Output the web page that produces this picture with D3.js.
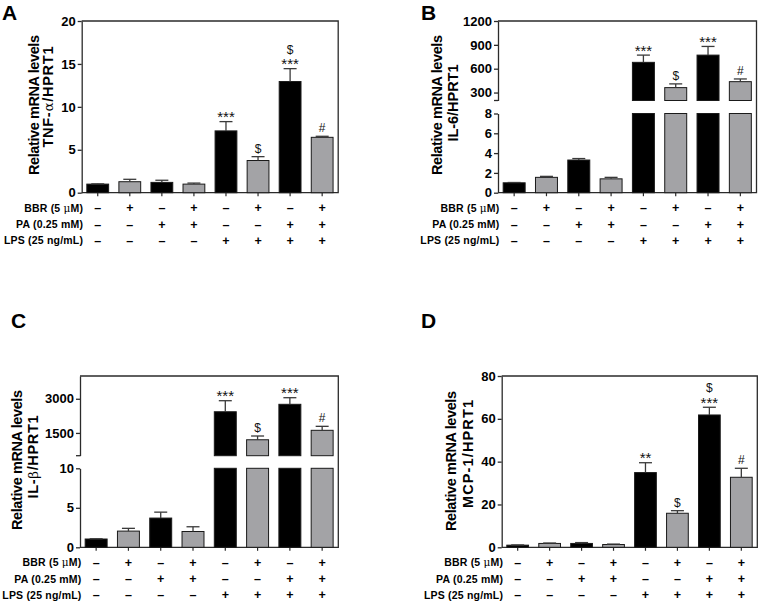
<!DOCTYPE html>
<html>
<head>
<meta charset="utf-8">
<script src="https://cdn.jsdelivr.net/npm/d3@7"></script>
<style>
  body { margin: 0; background: #fff; }
  svg { display: block; font-family: "Liberation Sans", Arial, sans-serif; }
</style>
</head>
<body>
<svg id="fig" width="760" height="605"></svg>
<script>
// treatment table under each panel
const rowNames = [["BBR (5 ", "μ", "M)"], ["PA (0.25 mM)"], ["LPS (25 ng/mL)"]];
const bbrSigns = ["–", "+", "–", "+", "–", "+", "–", "+"];
const paSigns  = ["–", "–", "+", "+", "–", "–", "+", "+"];
const lpsSigns = ["–", "–", "–", "–", "+", "+", "+", "+"];
const groups = d3.range(8);

// A: TNF-a
const tnfMean = [1.0, 1.28, 1.2, 1.0, 7.2, 3.75, 12.95, 6.45];
const tnfErr  = [0.03, 0.28, 0.25, 0.12, 1.08, 0.45, 1.5, 0.12];
const tnfMarks = [[], [], [], [], ["***"], ["$"], ["***", "$"], ["#"]];
const tnfTicks = [0, 5, 10, 15, 20];

// B: IL-6 (broken axis)
const il6Mean = [1.0, 1.55, 3.3, 1.4, 680, 362, 771, 437];
const il6Err  = [0.03, 0.1, 0.15, 0.15, 91, 47, 109, 34];
const il6Marks = [[], [], [], [], ["***"], ["$"], ["***"], ["#"]];
const il6TicksLow = [0, 2, 4, 6, 8];
const il6TicksHigh = [300, 600, 900, 1200];

// C: IL-1b (broken axis)
const il1bMean = [1.05, 2.05, 3.7, 2.0, 2430, 1200, 2757, 1615];
const il1bErr  = [0.03, 0.35, 0.75, 0.6, 485, 165, 290, 175];
const il1bMarks = [[], [], [], [], ["***"], ["$"], ["***"], ["#"]];
const il1bTicksLow = [0, 5, 10];
const il1bTicksHigh = [1500, 3000];

// D: MCP-1
const mcpMean = [1.0, 1.8, 1.8, 1.3, 34.9, 15.9, 61.8, 32.7];
const mcpErr  = [0.1, 0.2, 0.4, 0.2, 4.6, 1.2, 3.6, 4.2];
const mcpMarks = [[], [], [], [], ["**"], ["$"], ["***", "$"], ["#"]];
const mcpTicks = [0, 20, 40, 60, 80];

const svg = d3.select("#fig");
const ink = "#2b2b2b";
const grey = "#a3a3a6";

function drawPanel(p) {
  const g = svg.append("g");
  const x = d3.scaleBand().domain(groups).range([p.x0, p.x0 + p.w])
    .paddingInner(0.32).paddingOuter(0.16);

  // panel letter
  g.append("text").attr("x", p.lx).attr("y", p.ly)
    .style("font-size", "21px").style("font-weight", "bold").text(p.letter);

  // y label, two lines
  g.append("text")
    .attr("transform", `translate(${p.x0 - p.l1x},${p.l1y}) rotate(-90)`)
    .attr("text-anchor", "middle").style("font-size", "14.5px").style("font-weight", "bold")
    .attr("textLength", 140).attr("lengthAdjust", "spacing")
    .text("Relative mRNA levels");
  const lab2 = g.append("text")
    .attr("transform", `translate(${p.x0 - p.l2x},${p.l2y}) rotate(-90)`)
    .attr("text-anchor", "middle").style("font-size", "14.5px").style("font-weight", "bold")
    .attr("textLength", p.l2len).attr("lengthAdjust", "spacing");
  p.label.forEach(([t, greek]) => {
    lab2.append("tspan").text(t)
      .style("font-weight", greek ? "normal" : "bold")
      .style("font-family", greek ? "'DejaVu Serif', serif" : null)
      .style("font-size", greek ? "13.5px" : null);
  });

  // frame: top, right, bottom
  g.append("path")
    .attr("d", `M${p.x0},${p.top}H${p.x0 + p.w}V${p.bottom}H${p.x0}`)
    .attr("fill", "none").attr("stroke", ink).attr("stroke-width", 1.3);

  // x ticks at bar centres
  g.selectAll(".xt").data(groups).join("line")
    .attr("x1", d => x(d) + x.bandwidth() / 2).attr("x2", d => x(d) + x.bandwidth() / 2)
    .attr("y1", p.bottom).attr("y2", p.bottom + 3.5)
    .attr("stroke", ink).attr("stroke-width", 1.2);

  p.segs.forEach((s, si) => {
    const y = d3.scaleLinear().domain(s.domain).range(s.range);
    const ax = g.append("g").attr("transform", `translate(${p.x0},0)`)
      .call(d3.axisLeft(y).tickValues(s.ticks).tickFormat(d3.format("d"))
        .tickSize(4).tickSizeOuter(0).tickPadding(2));
    ax.select(".domain").attr("stroke", ink).attr("stroke-width", 1.3);
    ax.selectAll(".tick line").attr("stroke", ink).attr("stroke-width", 1.3);
    ax.selectAll(".tick text").attr("fill", "#000")
      .style("font-size", "13px").style("font-weight", "bold")
      .style("font-family", "'Liberation Sans', Arial, sans-serif");
    if (si > 0) {
      g.append("line").attr("x1", p.x0 - 4).attr("x2", p.x0)
        .attr("y1", s.range[0]).attr("y2", s.range[0])
        .attr("stroke", ink).attr("stroke-width", 1.3);
    }

    // bars clipped to this segment
    const inSeg = groups.filter(i => p.mean[i] > s.domain[0]);
    g.selectAll(null).data(inSeg).join("rect")
      .attr("x", i => x(i))
      .attr("width", x.bandwidth())
      .attr("y", i => y(Math.min(p.mean[i], s.domain[1])))
      .attr("height", i => s.range[0] - y(Math.min(p.mean[i], s.domain[1])))
      .attr("fill", i => i % 2 ? grey : "#000")
      .attr("stroke", "#1a1a1a").attr("stroke-width", 1);

    // error bars and significance marks for means that end in this segment
    const ends = groups.filter(i => p.mean[i] > s.domain[0] && p.mean[i] <= s.domain[1]);
    ends.forEach(i => {
      const cx = x(i) + x.bandwidth() / 2;
      const y0 = y(p.mean[i]), y1 = y(p.mean[i] + p.err[i]);
      g.append("line").attr("x1", cx).attr("x2", cx).attr("y1", y0).attr("y2", y1)
        .attr("stroke", "#3a3a3a").attr("stroke-width", 1.3);
      g.append("line").attr("x1", cx - 6.5).attr("x2", cx + 6.5).attr("y1", y1).attr("y2", y1)
        .attr("stroke", "#3a3a3a").attr("stroke-width", 1.3);
      let base = y1;
      p.marks[i].forEach(m => {
        const star = m.startsWith("*");
        const by = star ? base + 0.5 : base - 4;
        g.append("text").attr("x", cx).attr("y", by).attr("text-anchor", "middle")
          .attr("fill", "#111")
          .style("font-size", star ? "15px" : "12px").text(m);
        base = star ? base - 11 : base - 14;
      });
    });
  });

  // treatment table
  const rows = [bbrSigns, paSigns, lpsSigns];
  const rowY = [19, 35.5, 51.5];
  rows.forEach((signs, r) => {
    const t = g.append("text").attr("x", p.x0 + 1.5).attr("y", p.bottom + rowY[r])
      .attr("text-anchor", "end").style("font-size", "10.5px").style("font-weight", "bold")
      .style("letter-spacing", "0.2px");
    rowNames[r].forEach(part => {
      t.append("tspan").text(part)
        .style("font-weight", part === "μ" ? "normal" : "bold")
        .style("font-family", part === "μ" ? "'DejaVu Serif', serif" : null);
    });
    g.selectAll(null).data(signs).join("text")
      .attr("x", (d, i) => x(i) + x.bandwidth() / 2)
      .attr("y", p.bottom + rowY[r] + 0.5)
      .attr("text-anchor", "middle").style("font-size", "12.5px").style("font-weight", "bold")
      .text(d => d);
  });
}

drawPanel({
  letter: "A", lx: 2, ly: 20, x0: 81.7, w: 256.5, top: 21, bottom: 192.7,
  l1x: 43, l1y: 105, l2x: 29, l2y: 97, l2len: 101,
  label: [["TNF-", false], ["α", true], ["/HPRT1", false]],
  mean: tnfMean, err: tnfErr, marks: tnfMarks,
  segs: [{ domain: [0, 20], range: [192.7, 21], ticks: tnfTicks }]
});

drawPanel({
  letter: "B", lx: 421, ly: 20, x0: 498, w: 258.5, top: 21, bottom: 192.7,
  l1x: 56, l1y: 105, l2x: 40, l2y: 103, l2len: 77,
  label: [["IL-6/HPRT1", false]],
  mean: il6Mean, err: il6Err, marks: il6Marks,
  segs: [
    { domain: [0, 8], range: [192.7, 113.5], ticks: il6TicksLow },
    { domain: [200, 1200], range: [100.5, 21], ticks: il6TicksHigh }
  ]
});

drawPanel({
  letter: "C", lx: 11, ly: 328, x0: 80, w: 258.3, top: 376, bottom: 547.3,
  l1x: 58, l1y: 460, l2x: 42, l2y: 457, l2len: 83,
  label: [["IL-", false], ["β", true], ["/HPRT1", false]],
  mean: il1bMean, err: il1bErr, marks: il1bMarks,
  segs: [
    { domain: [0, 10], range: [547.3, 468.3], ticks: il1bTicksLow },
    { domain: [500, 4000], range: [455.7, 376], ticks: il1bTicksHigh }
  ]
});

drawPanel({
  letter: "D", lx: 421, ly: 328, x0: 501.7, w: 255.6, top: 376, bottom: 547.3,
  l1x: 46, l1y: 461, l2x: 29, l2y: 454, l2len: 108,
  label: [["MCP-1/HPRT1", false]],
  mean: mcpMean, err: mcpErr, marks: mcpMarks,
  segs: [{ domain: [0, 80], range: [547.3, 376], ticks: mcpTicks }]
});
</script>
</body>
</html>
